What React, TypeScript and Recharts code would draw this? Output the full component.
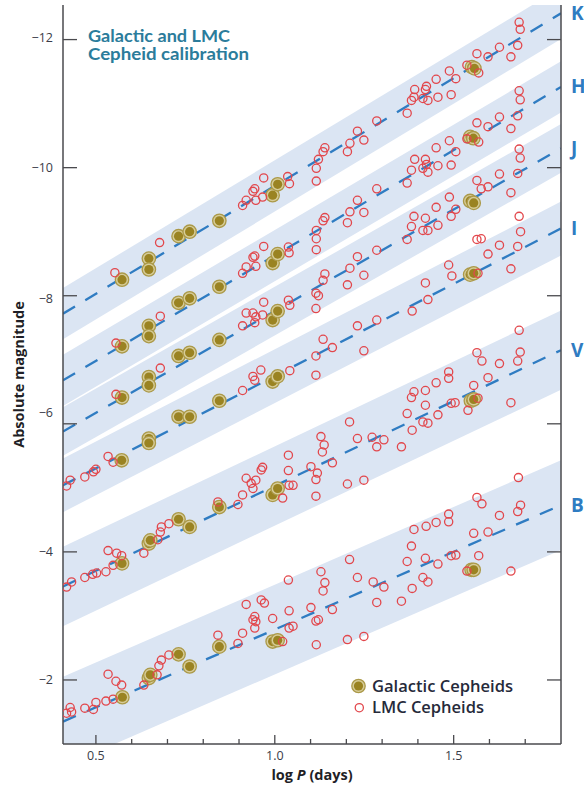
import React from 'react';
import { ComposedChart, XAxis, YAxis, Area, Line, Scatter, ReferenceDot } from 'recharts';

// ---------- axes ----------
const X_MIN = 0.408;
const X_MAX = 1.8;
const Y_TOP = -12.54;
const Y_BOTTOM = -1.0;
const xTicks = [0.5, 0.6, 0.7, 0.8, 0.9, 1.0, 1.1, 1.2, 1.3, 1.4, 1.5, 1.6, 1.7];
const xTickLabels: Record<string, string> = { '0.5': '0.5', '1': '1.0', '1.5': '1.5' };
const yTicks = [-12, -10, -8, -6, -4, -2];

// ---------- bands (fit lines read at the left/right plot edges) ----------
const bandNames = ['K', 'H', 'J', 'I', 'V', 'B'];
const lineStart = [-7.72, -6.68, -5.88, -5.04, -3.46, -1.35];
const lineEnd = [-12.41, -11.26, -10.3, -9.05, -7.15, -4.73];
const bandHalfWidth = [0.4, 0.4, 0.38, 0.42, 0.62, 0.7];

// ---------- LMC Cepheids [logP, M] ----------
const lmcK = [[0.553,-8.36],[0.678,-8.83],[0.910,-9.41],[0.920,-9.49],[0.939,-9.63],[0.944,-9.67],[0.947,-9.49],[0.966,-9.54],[0.969,-9.84],[1.036,-9.86],[1.041,-9.75],[1.116,-9.99],[1.116,-9.79],[1.122,-10.13],[1.135,-10.25],[1.140,-10.31],[1.203,-10.25],[1.210,-10.38],[1.231,-10.57],[1.249,-10.43],[1.285,-10.73],[1.370,-10.85],[1.382,-11.05],[1.391,-11.22],[1.389,-11.10],[1.414,-11.08],[1.421,-11.22],[1.424,-11.27],[1.428,-11.05],[1.451,-11.38],[1.456,-11.10],[1.488,-11.51],[1.493,-11.14],[1.506,-11.39],[1.537,-11.60],[1.565,-11.78],[1.570,-11.48],[1.596,-11.73],[1.628,-11.88],[1.660,-11.73],[1.679,-11.91],[1.683,-12.27],[1.686,-12.16]];
const lmcH = [[0.556,-7.26],[0.680,-7.68],[0.910,-8.35],[0.920,-8.45],[0.939,-8.60],[0.944,-8.62],[0.947,-8.46],[0.969,-8.77],[1.038,-8.76],[1.040,-8.67],[1.116,-9.02],[1.116,-8.89],[1.116,-8.72],[1.135,-9.17],[1.140,-9.22],[1.203,-9.14],[1.210,-9.31],[1.231,-9.49],[1.249,-9.30],[1.285,-9.67],[1.370,-9.76],[1.382,-9.96],[1.391,-10.13],[1.414,-9.99],[1.421,-10.13],[1.424,-10.05],[1.428,-9.93],[1.451,-10.31],[1.456,-10.03],[1.488,-10.42],[1.493,-10.04],[1.506,-10.25],[1.537,-10.45],[1.565,-10.70],[1.570,-10.40],[1.596,-10.64],[1.628,-10.79],[1.660,-10.61],[1.679,-10.81],[1.683,-11.20],[1.686,-11.06]];
const lmcJ = [[0.556,-6.46],[0.680,-6.87],[0.910,-7.53],[0.920,-7.73],[0.939,-7.73],[0.944,-7.58],[0.947,-7.67],[0.966,-7.70],[0.969,-7.90],[1.038,-7.93],[1.042,-7.85],[1.115,-8.04],[1.122,-8.00],[1.115,-7.80],[1.135,-8.24],[1.140,-8.34],[1.203,-8.17],[1.210,-8.43],[1.231,-8.61],[1.249,-8.32],[1.285,-8.71],[1.370,-8.88],[1.382,-9.08],[1.389,-9.24],[1.414,-9.02],[1.421,-9.21],[1.428,-9.02],[1.451,-9.38],[1.456,-9.10],[1.488,-9.54],[1.493,-9.24],[1.506,-9.35],[1.565,-9.80],[1.577,-9.67],[1.596,-9.70],[1.628,-9.90],[1.660,-9.61],[1.679,-9.91],[1.683,-10.29],[1.686,-10.15]];
const lmcI = [[0.418,-5.03],[0.428,-5.12],[0.469,-5.17],[0.493,-5.25],[0.500,-5.29],[0.534,-5.49],[0.548,-5.40],[0.910,-6.52],[0.939,-6.74],[0.944,-6.68],[0.961,-6.84],[1.042,-6.83],[1.115,-7.06],[1.115,-6.76],[1.135,-7.32],[1.161,-7.19],[1.231,-7.53],[1.249,-7.14],[1.285,-7.62],[1.384,-7.76],[1.421,-8.20],[1.428,-7.94],[1.486,-8.48],[1.495,-8.31],[1.568,-8.35],[1.565,-8.88],[1.577,-8.89],[1.596,-8.65],[1.628,-8.79],[1.660,-8.42],[1.679,-8.77],[1.683,-9.24],[1.687,-9.00]];
const lmcV = [[0.418,-3.45],[0.432,-3.53],[0.469,-3.60],[0.491,-3.65],[0.502,-3.67],[0.528,-3.69],[0.534,-4.02],[0.548,-3.79],[0.558,-3.98],[0.572,-3.94],[0.634,-3.98],[0.673,-4.19],[0.680,-4.31],[0.683,-4.39],[0.704,-4.44],[0.841,-4.78],[0.897,-4.74],[0.910,-4.89],[0.920,-5.15],[0.934,-5.07],[0.939,-4.99],[0.947,-5.12],[0.962,-5.28],[0.966,-5.32],[1.022,-4.84],[1.038,-5.51],[1.038,-5.27],[1.040,-5.04],[1.051,-5.04],[1.101,-5.33],[1.115,-5.13],[1.119,-5.23],[1.115,-4.87],[1.129,-5.80],[1.138,-5.67],[1.133,-5.56],[1.161,-5.39],[1.203,-5.06],[1.209,-6.03],[1.231,-5.77],[1.249,-5.12],[1.272,-5.79],[1.285,-5.64],[1.305,-5.75],[1.354,-5.64],[1.370,-6.16],[1.382,-6.41],[1.389,-6.50],[1.384,-5.90],[1.421,-6.52],[1.421,-6.29],[1.414,-6.03],[1.428,-6.01],[1.451,-6.64],[1.456,-6.14],[1.486,-6.81],[1.486,-6.71],[1.493,-6.32],[1.504,-6.33],[1.540,-6.21],[1.568,-6.40],[1.556,-6.60],[1.565,-7.11],[1.579,-6.98],[1.596,-6.72],[1.628,-6.94],[1.660,-6.33],[1.679,-6.98],[1.686,-7.12],[1.683,-7.46]];
const lmcB = [[0.418,-1.48],[0.428,-1.57],[0.432,-1.50],[0.469,-1.56],[0.493,-1.54],[0.500,-1.65],[0.528,-1.67],[0.534,-2.09],[0.548,-1.70],[0.556,-1.98],[0.572,-1.92],[0.634,-1.92],[0.671,-2.08],[0.676,-2.22],[0.683,-2.31],[0.704,-2.39],[0.841,-2.70],[0.897,-2.57],[0.910,-2.73],[0.920,-3.18],[0.939,-2.94],[0.944,-2.99],[0.947,-2.91],[0.944,-2.81],[0.962,-3.25],[0.971,-3.20],[0.994,-2.96],[1.022,-2.60],[1.038,-3.56],[1.040,-3.08],[1.040,-2.81],[1.051,-2.84],[1.101,-3.13],[1.115,-2.92],[1.122,-2.94],[1.116,-2.55],[1.129,-3.69],[1.140,-3.52],[1.135,-3.39],[1.161,-3.10],[1.203,-2.63],[1.209,-3.88],[1.231,-3.60],[1.249,-2.68],[1.275,-3.53],[1.285,-3.21],[1.305,-3.45],[1.354,-3.23],[1.370,-3.85],[1.382,-4.09],[1.389,-4.35],[1.384,-3.43],[1.414,-3.60],[1.421,-3.90],[1.423,-4.40],[1.428,-3.53],[1.451,-4.46],[1.456,-3.81],[1.486,-4.59],[1.486,-4.47],[1.493,-3.94],[1.506,-3.95],[1.537,-3.70],[1.570,-3.94],[1.556,-4.29],[1.565,-4.85],[1.579,-4.75],[1.596,-4.31],[1.628,-4.57],[1.660,-3.70],[1.679,-4.63],[1.687,-4.73],[1.681,-5.16]];

// ---------- Galactic Cepheids [logP, M] ----------
const galK = [[0.573,-8.25],[0.648,-8.58],[0.648,-8.41],[0.731,-8.93],[0.762,-9.00],[0.845,-9.17],[0.994,-9.57],[1.008,-9.74],[1.551,-11.57],[1.558,-11.55]];
const galH = [[0.573,-7.21],[0.648,-7.53],[0.648,-7.37],[0.731,-7.89],[0.762,-7.96],[0.845,-8.14],[0.994,-8.51],[1.008,-8.65],[1.546,-10.48],[1.555,-10.46]];
const galJ = [[0.573,-6.41],[0.648,-6.73],[0.648,-6.60],[0.731,-7.06],[0.762,-7.11],[0.845,-7.31],[0.994,-7.62],[1.008,-7.76],[1.546,-9.48],[1.556,-9.45]];
const galI = [[0.572,-5.43],[0.648,-5.77],[0.648,-5.70],[0.731,-6.11],[0.762,-6.11],[0.845,-6.36],[0.994,-6.66],[1.008,-6.74],[1.546,-8.33],[1.556,-8.35]];
const galV = [[0.573,-3.82],[0.648,-4.13],[0.652,-4.18],[0.731,-4.51],[0.762,-4.39],[0.845,-4.70],[0.994,-4.89],[1.008,-4.99],[1.548,-6.36],[1.556,-6.38]];
const galB = [[0.574,-1.73],[0.648,-2.03],[0.652,-2.08],[0.731,-2.40],[0.762,-2.21],[0.845,-2.52],[0.994,-2.60],[1.008,-2.62],[1.550,-3.72],[1.556,-3.72]];

// ---------- styles ----------
const FONT = '"Open Sans", "Noto Sans", sans-serif';
const TITLE_FONT = 'Lato, "Open Sans", sans-serif';
const AXIS = '#4a4a4e';
const TICK_TEXT = '#3a3c48';
const BAND = '#dbe5f3';
const DASH = '#2f7cc2';
const LABEL_BLUE = '#2f7cc2';
const TITLE = '#2b7c9b';
const LMC_RED = '#e2474c';

// build chart rows from the read values
const bandRows = [X_MIN, X_MAX].map((x, i) => {
  const row: any = { x };
  bandNames.forEach((b, k) => {
    const c = i === 0 ? lineStart[k] : lineEnd[k];
    row[b + 'line'] = c;
    row[b + 'band'] = [c - bandHalfWidth[k], c + bandHalfWidth[k]];
  });
  return row;
});
const toPts = (arr: number[][]) => arr.map(([x, y]) => ({ x, y }));
const lmcPoints = [lmcK, lmcH, lmcJ, lmcI, lmcV, lmcB].flatMap(toPts);
const galPoints = [galK, galH, galJ, galI, galV, galB].flatMap(toPts);

const GalShape = (p: any) => (
  <g>
    <circle cx={p.cx} cy={p.cy} r={6.7} fill="#d6cc98" stroke="#ab9948" strokeWidth={1.3} />
    <circle cx={p.cx} cy={p.cy} r={4.6} fill="#9a8322" />
  </g>
);
const LmcShape = (p: any) => (
  <circle cx={p.cx} cy={p.cy} r={4.1} fill="none" stroke={LMC_RED} strokeWidth={1.3} />
);

const BottomTick = (p: any) => {
  const label = xTickLabels[String(p.payload.value)];
  return (
    <g>
      <line x1={p.x} x2={p.x} y1={p.y} y2={p.y - (label ? 9 : 5)} stroke={AXIS} strokeWidth={1.3} />
      {label && (
        <text x={p.x} y={p.y + 16} textAnchor="middle" fontFamily={FONT} fontSize={12.5} fill={TICK_TEXT}>
          {label}
        </text>
      )}
    </g>
  );
};
const TopTick = (p: any) => {
  const major = !!xTickLabels[String(p.payload.value)];
  return <line x1={p.x} x2={p.x} y1={p.y} y2={p.y + (major ? 10 : 5.5)} stroke={AXIS} strokeWidth={1.3} />;
};
const LeftTick = (p: any) => {
  const v = p.payload.value;
  const dy = v === -6 ? -11 : v === -12 ? -2.5 : v === -8 ? 3 : 0;
  return (
    <g>
      <line x1={p.x} x2={p.x + 14} y1={p.y} y2={p.y} stroke={AXIS} strokeWidth={1.3} />
      <text x={p.x - 10} y={p.y + dy + 4.5} textAnchor="end" fontFamily={FONT} fontSize={12.5} fill={TICK_TEXT}>
        {'\u2212' + Math.abs(v)}
      </text>
    </g>
  );
};
const RightTick = (p: any) => (
  <line x1={p.x} x2={p.x - 14} y1={p.y} y2={p.y} stroke={AXIS} strokeWidth={1.3} />
);

const YLabel = (p: any) => {
  const vb = p.viewBox;
  const cy = vb.y + vb.height / 2;
  return (
    <text
      transform={`translate(${23.5}, ${cy}) rotate(-90)`}
      textAnchor="middle"
      fontFamily={FONT}
      fontWeight={700}
      fontSize={14.5}
      fill="#1f1f26"
    >
      Absolute magnitude
    </text>
  );
};
const XLabel = (p: any) => {
  const vb = p.viewBox;
  return (
    <text x={vb.x + vb.width / 2} y={vb.y + 36} textAnchor="middle" fontFamily={FONT} fontWeight={700} fontSize={14.5} fill="#1f1f26">
      log <tspan fontStyle="italic">P</tspan> (days)
    </text>
  );
};
const BandLabel = (text: string) => (p: any) => {
  const vb = p.viewBox;
  return (
    <text x={vb.x + 11} y={vb.y + 1 + 6.5} fontFamily={FONT} fontWeight={700} fontSize={19} fill={LABEL_BLUE}>
      {text}
    </text>
  );
};

export default function App() {
  return (
    <div style={{ position: 'absolute', left: 0, top: 0, width: 584, height: 789, background: '#fff' }}>
      <ComposedChart width={584} height={789} data={bandRows} margin={{ top: 5, right: 0, bottom: 0, left: 0 }}>
        <XAxis
          xAxisId={0}
          type="number"
          dataKey="x"
          domain={[X_MIN, X_MAX]}
          allowDataOverflow
          ticks={xTicks}
          interval={0}
          height={45}
          axisLine={{ stroke: AXIS, strokeWidth: 1.5 }}
          tickLine={false}
          tickSize={0}
          tickMargin={0}
          tick={BottomTick}
          label={XLabel}
        />
        <XAxis
          xAxisId="top"
          orientation="top"
          type="number"
          dataKey="x"
          domain={[X_MIN, X_MAX]}
          allowDataOverflow
          ticks={xTicks}
          interval={0}
          height={0}
          axisLine={{ stroke: AXIS, strokeWidth: 1.5 }}
          tickLine={false}
          tickSize={0}
          tickMargin={0}
          tick={TopTick}
        />
        <YAxis
          yAxisId={0}
          type="number"
          dataKey="y"
          domain={[Y_TOP, Y_BOTTOM]}
          reversed
          allowDataOverflow
          ticks={yTicks}
          interval={0}
          width={63}
          axisLine={{ stroke: AXIS, strokeWidth: 1.5 }}
          tickLine={false}
          tickSize={0}
          tickMargin={0}
          tick={LeftTick}
          label={YLabel}
        />
        <YAxis
          yAxisId="right"
          orientation="right"
          type="number"
          dataKey="y"
          domain={[Y_TOP, Y_BOTTOM]}
          reversed
          allowDataOverflow
          ticks={yTicks}
          interval={0}
          width={23}
          axisLine={{ stroke: AXIS, strokeWidth: 1.5 }}
          tickLine={false}
          tickSize={0}
          tickMargin={0}
          tick={RightTick}
        />
        {bandNames.map((b) => (
          <Area
            key={b + 'band'}
            type="linear"
            dataKey={b + 'band'}
            fill={BAND}
            fillOpacity={1}
            stroke="none"
            dot={false}
            activeDot={false}
            isAnimationActive={false}
          />
        ))}
        {bandNames.map((b) => (
          <Line
            key={b + 'line'}
            type="linear"
            dataKey={b + 'line'}
            stroke={DASH}
            strokeWidth={2.3}
            strokeDasharray="14 12"
            dot={false}
            activeDot={false}
            isAnimationActive={false}
          />
        ))}
        <Scatter data={galPoints} shape={GalShape} isAnimationActive={false} />
        <Scatter data={lmcPoints} shape={LmcShape} isAnimationActive={false} />
        {bandNames.map((b, k) => (
          <ReferenceDot
            key={b + 'lab'}
            x={X_MAX}
            y={lineEnd[k]}
            r={1}
            fill="none"
            stroke="none"
            ifOverflow="visible"
            label={BandLabel(b)}
          />
        ))}
      </ComposedChart>
      <svg width={584} height={789} style={{ position: 'absolute', left: 0, top: 0, pointerEvents: 'none' }}>
        <text x={88} y={41.5} fontFamily={TITLE_FONT} fontWeight={700} fontSize={17} fill={TITLE} textLength={142} lengthAdjust="spacingAndGlyphs">
          Galactic and LMC
        </text>
        <text x={88} y={59.5} fontFamily={TITLE_FONT} fontWeight={700} fontSize={17} fill={TITLE} textLength={161} lengthAdjust="spacingAndGlyphs">
          Cepheid calibration
        </text>
        <g>
          <circle cx={358.5} cy={686} r={6.7} fill="#d6cc98" stroke="#ab9948" strokeWidth={1.3} />
          <circle cx={358.5} cy={686} r={4.6} fill="#9a8322" />
          <text x={372} y={691.5} fontFamily={FONT} fontWeight={600} fontSize={16} fill="#262a3a" textLength={141} lengthAdjust="spacingAndGlyphs">
            Galactic Cepheids
          </text>
          <circle cx={359.3} cy={707.7} r={4.1} fill="none" stroke={LMC_RED} strokeWidth={1.3} />
          <text x={372} y={713} fontFamily={FONT} fontWeight={600} fontSize={16} fill="#262a3a" textLength={112} lengthAdjust="spacingAndGlyphs">
            LMC Cepheids
          </text>
        </g>
      </svg>
    </div>
  );
}
